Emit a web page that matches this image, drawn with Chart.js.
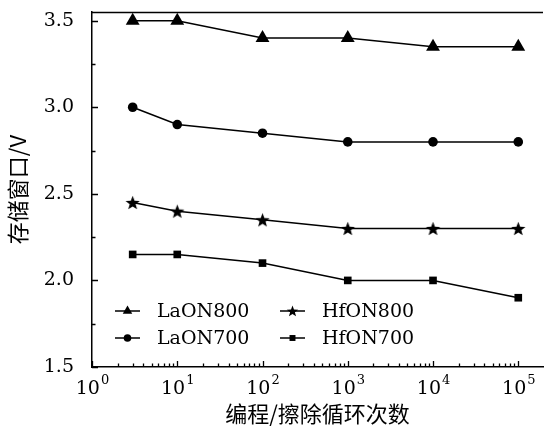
<!DOCTYPE html>
<html>
<head>
<meta charset="utf-8">
<script src="https://cdn.jsdelivr.net/npm/chart.js@4.4.0/dist/chart.umd.min.js"></script>
<style>
  html, body { margin: 0; padding: 0; background: #fff; }
  #wrap { width: 551px; height: 433px; }
</style>
</head>
<body>
<div id="wrap"><canvas id="chart"></canvas></div>
<script>
// data
const cycles = [3, 10, 100, 1000, 10000, 100000];
const laon800 = [3.5, 3.5, 3.4, 3.4, 3.35, 3.35];
const laon700 = [3.0, 2.9, 2.85, 2.8, 2.8, 2.8];
const hfon800 = [2.45, 2.4, 2.35, 2.3, 2.3, 2.3];
const hfon700 = [2.15, 2.15, 2.1, 2.0, 2.0, 1.9];
const xTicks = [1, 10, 100, 1000, 10000, 100000];
const yTicks = [1.5, 2.0, 2.5, 3.0, 3.5];
const yMinorTicks = [1.75, 2.25, 2.75, 3.25];

const SERIF = "'DejaVu Serif', serif";
const CJK = "'Noto Sans CJK SC', sans-serif";

function starPath(ctx, cx, cy, R) {
  const r = R * 0.42;
  ctx.beginPath();
  for (let i = 0; i < 10; i++) {
    const a = -Math.PI / 2 + i * Math.PI / 5;
    const rad = i % 2 ? r : R;
    ctx.lineTo(cx + rad * Math.cos(a), cy + rad * Math.sin(a));
  }
  ctx.closePath();
  ctx.fill();
}
function starImage(R) {
  const c = document.createElement('canvas');
  c.width = c.height = Math.ceil(2 * R + 2);
  const g = c.getContext('2d');
  g.fillStyle = '#000';
  starPath(g, c.width / 2, c.height / 2 + R * 0.1, R);
  return c;
}

function pts(ys) { return cycles.map((x, i) => ({ x: x, y: ys[i] })); }

function series(label, ys, style, radius) {
  return {
    label: label,
    data: pts(ys),
    borderColor: '#000',
    backgroundColor: '#000',
    borderWidth: 1.5,
    pointStyle: style,
    pointRadius: radius,
    pointBorderWidth: 0,
    tension: 0
  };
}

// ticks, top frame, x labels and legend
const decor = {
  id: 'decor',
  afterDraw(chart) {
    const ctx = chart.ctx;
    const a = chart.chartArea;
    const xs = chart.scales.x, ys = chart.scales.y;
    ctx.save();
    ctx.strokeStyle = '#000';
    ctx.fillStyle = '#000';
    ctx.lineWidth = 1.3;
    ctx.beginPath();
    ctx.moveTo(a.left, a.top + 0.5);
    ctx.lineTo(a.right, a.top + 0.5);
    // x ticks, inward
    for (let k = 0; k <= 5; k++) {
      const px = Math.round(xs.getPixelForValue(Math.pow(10, k))) + 0.5;
      ctx.moveTo(px, a.bottom); ctx.lineTo(px, a.bottom - 6);
      if (k < 5) {
        for (let m = 2; m <= 9; m++) {
          const p = Math.round(xs.getPixelForValue(m * Math.pow(10, k))) + 0.5;
          ctx.moveTo(p, a.bottom); ctx.lineTo(p, a.bottom - 3.5);
        }
      }
    }
    // y ticks, inward
    yTicks.forEach(v => {
      const py = Math.round(ys.getPixelForValue(v)) + 0.5;
      ctx.moveTo(a.left, py); ctx.lineTo(a.left + 6, py);
    });
    yMinorTicks.forEach(v => {
      const py = Math.round(ys.getPixelForValue(v)) + 0.5;
      ctx.moveTo(a.left, py); ctx.lineTo(a.left + 3.5, py);
    });
    ctx.stroke();

    // x tick labels as 10^k
    ctx.textBaseline = 'middle';
    xTicks.forEach(v => {
      const k = Math.round(Math.log10(v));
      const px = xs.getPixelForValue(v);
      ctx.font = '19px ' + SERIF;
      const w1 = ctx.measureText('10').width;
      ctx.font = '13px ' + SERIF;
      const w2 = ctx.measureText(String(k)).width;
      const x0 = px - (w1 + w2) / 2;
      ctx.font = '19px ' + SERIF;
      ctx.textAlign = 'left';
      ctx.fillText('10', x0, a.bottom + 22);
      ctx.font = '13px ' + SERIF;
      ctx.fillText(String(k), x0 + w1 + 1, a.bottom + 14);
    });

    // legend, two columns inside the plot
    const cols = [a.left + 23, a.left + 188];
    const rows = [a.bottom - 56, a.bottom - 29];
    const order = [0, 2, 1, 3];
    const legendSizes = { triangle: 5.5, circle: 3.8, rect: 4.2 };
    order.forEach((di, i) => {
      const ds = chart.data.datasets[di];
      const cx = cols[i % 2], cy = rows[Math.floor(i / 2)];
      ctx.lineWidth = 1.5;
      ctx.beginPath();
      ctx.moveTo(cx, cy); ctx.lineTo(cx + 25, cy);
      ctx.stroke();
      if (ds.pointStyle instanceof HTMLCanvasElement) {
        starPath(ctx, cx + 12.5, cy + 0.5, 6);
      } else {
        Chart.helpers.drawPoint(ctx, {
          pointStyle: ds.pointStyle, radius: legendSizes[ds.pointStyle],
          rotation: 0, borderWidth: 0
        }, cx + 12.5, cy);
      }
      ctx.font = '19px ' + SERIF;
      ctx.textAlign = 'left';
      ctx.fillText(ds.label, cx + 42, cy + 1);
    });
    ctx.restore();
  }
};

new Chart(document.getElementById('chart').getContext('2d'), {
  type: 'line',
  data: {
    datasets: [
      series('LaON800', laon800, 'triangle', 8),
      series('LaON700', laon700, 'circle', 4.8),
      series('HfON800', hfon800, starImage(7.5), 7.5),
      series('HfON700', hfon700, 'rect', 5.4)
    ]
  },
  options: {
    responsive: true,
    maintainAspectRatio: false,
    animation: false,
    devicePixelRatio: 1,
    layout: { padding: { top: 12, right: 0, left: 0, bottom: 0 } },
    plugins: {
      legend: { display: false },
      tooltip: { enabled: false }
    },
    scales: {
      x: {
        type: 'logarithmic',
        min: 1,
        max: 195000,
        grid: { display: false },
        border: { display: true, color: '#000', width: 1.5 },
        ticks: { display: false },
        afterBuildTicks(scale) { scale.ticks = xTicks.map(v => ({ value: v })); },
        afterFit(scale) { scale.height = 66; scale.paddingLeft = 0; scale.paddingRight = 0; },
        title: {
          display: true,
          text: '编程/擦除循环次数',
          color: '#000',
          font: { family: CJK, size: 22 },
          padding: { top: 0, bottom: 6 }
        }
      },
      y: {
        min: 1.5,
        max: 3.55,
        grid: { display: false },
        border: { display: true, color: '#000', width: 1.5 },
        afterBuildTicks(scale) { scale.ticks = yTicks.map(v => ({ value: v })); },
        afterFit(scale) { scale.width = 92; scale.paddingTop = 0; scale.paddingBottom = 0; },
        ticks: {
          color: '#000',
          padding: 10,
          font: { family: SERIF, size: 19 },
          callback: v => Number(v).toFixed(1)
        },
        title: {
          display: true,
          text: '存储窗口/V',
          color: '#000',
          font: { family: CJK, size: 22 },
          padding: { top: 4, bottom: 0 }
        }
      }
    }
  },
  plugins: [decor]
});
</script>
</body>
</html>
